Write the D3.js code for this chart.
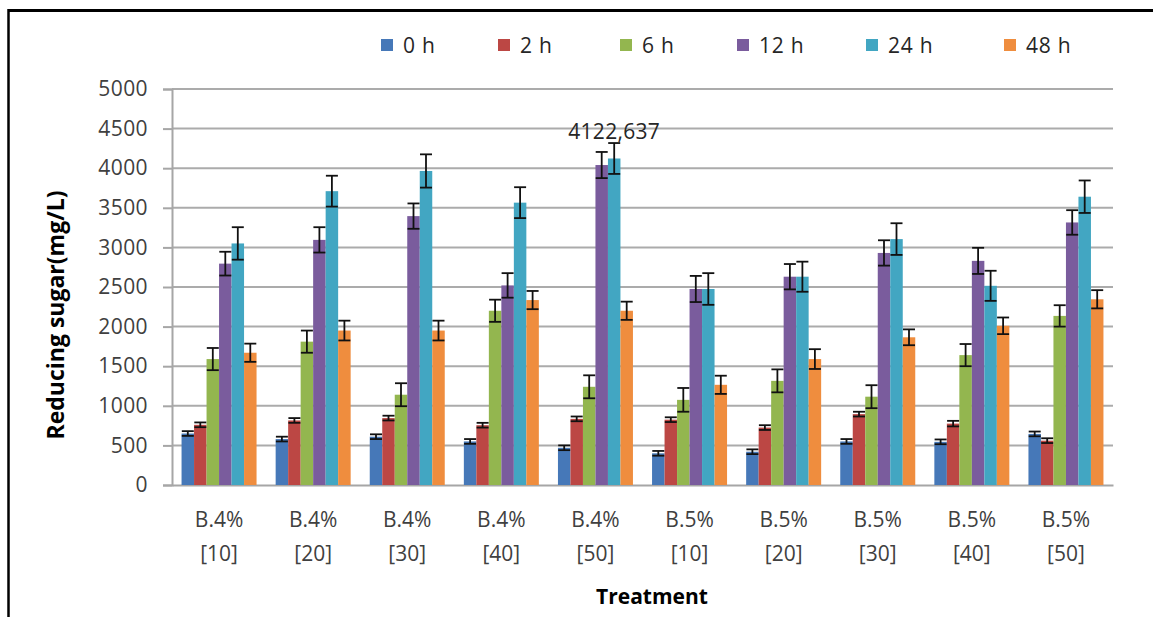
<!DOCTYPE html>
<html>
<head>
<meta charset="utf-8">
<script src="https://cdn.jsdelivr.net/npm/d3@7/dist/d3.min.js"></script>
<style>
  html, body { margin: 0; padding: 0; background: #fff; }
  svg { display: block; }
  text { font-family: "Open Sans", "Liberation Sans", sans-serif; }
</style>
</head>
<body>
<svg id="chart" width="1153" height="617"></svg>
<script>
// Treatments (two-line category labels)
const categories = ["B.4%|[10]", "B.4%|[20]", "B.4%|[30]", "B.4%|[40]", "B.4%|[50]",
                    "B.5%|[10]", "B.5%|[20]", "B.5%|[30]", "B.5%|[40]", "B.5%|[50]"];

// Sampling times
const seriesNames = ["0 h", "2 h", "6 h", "12 h", "24 h", "48 h"];

// Reducing sugar (mg/L) per sampling time
const values0h  = [650, 580, 610, 550, 470, 400, 420, 550, 545, 645];
const values2h  = [760, 815, 845, 755, 835, 825, 725, 895, 775, 560];
const values6h  = [1590, 1810, 1140, 2200, 1240, 1075, 1315, 1115, 1640, 2135];
const values12h = [2795, 3095, 3395, 2520, 4040, 2475, 2630, 2930, 2830, 3315];
const values24h = [3050, 3710, 3965, 3565, 4122.637, 2475, 2630, 3105, 2515, 3640];
const values48h = [1670, 1950, 1950, 2335, 2200, 1265, 1590, 1865, 2010, 2345];

// Standard deviations
const err0h  = [30, 30, 30, 30, 30, 30, 30, 30, 30, 30];
const err2h  = [30, 30, 30, 30, 30, 30, 30, 30, 35, 30];
const err6h  = [140, 140, 145, 140, 145, 150, 145, 145, 140, 135];
const err12h = [150, 160, 160, 155, 165, 165, 160, 160, 165, 155];
const err24h = [205, 195, 210, 195, 195, 200, 190, 200, 190, 205];
const err48h = [115, 125, 125, 115, 115, 115, 125, 100, 105, 115];

const yTicks = [0, 500, 1000, 1500, 2000, 2500, 3000, 3500, 4000, 4500, 5000];

// Labelled point: 24 h at B.4% [50]
const labelSeries = 4, labelCategory = 4, labelText = "4122,637";

const seriesValues = [values0h, values2h, values6h, values12h, values24h, values48h];
const seriesErrors = [err0h, err2h, err6h, err12h, err24h, err48h];
const colors = ["#4678B8", "#BC4744", "#93B64F", "#7A5C9D", "#42A6C2", "#EF8D3E"];

const svg = d3.select("#chart");

// Outer frame (top and left edges)
svg.append("line").attr("x1", 8).attr("x2", 1153).attr("y1", 10.5).attr("y2", 10.5)
  .attr("stroke", "#000").attr("stroke-width", 3);
svg.append("line").attr("x1", 8.5).attr("x2", 8.5).attr("y1", 9).attr("y2", 617)
  .attr("stroke", "#000").attr("stroke-width", 2.5);

const plot = { left: 172, right: 1113, top: 89, bottom: 485 };

const x = d3.scaleBand().domain(categories)
  .range([plot.left, plot.right]).paddingInner(0.203).paddingOuter(0.1015);
const xs = d3.scaleBand().domain(d3.range(seriesNames.length))
  .range([0, x.bandwidth()]).padding(0);
const y = d3.scaleLinear().domain([0, 5000]).range([plot.bottom, plot.top]);

// Gridlines
svg.append("g").selectAll("line").data(yTicks.filter(d => d > 0)).join("line")
  .attr("x1", plot.left).attr("x2", plot.right)
  .attr("y1", d => y(d)).attr("y2", d => y(d))
  .attr("stroke", "#ababab").attr("stroke-width", 2);

// Y axis
const yAxis = d3.axisLeft(y).tickValues(yTicks).tickSize(9).tickPadding(15)
  .tickFormat(d3.format("d"));
const gy = svg.append("g").attr("transform", `translate(${plot.left},0)`).call(yAxis);
gy.select(".domain").attr("stroke", "#a6a6a6").attr("stroke-width", 2);
gy.selectAll(".tick line").attr("stroke", "#a6a6a6").attr("stroke-width", 2);
gy.selectAll(".tick text").attr("font-size", 21).attr("fill", "#404040")
  .attr("letter-spacing", 0.4);

// X axis baseline
const xAxis = d3.axisBottom(x).tickSize(0).tickFormat("");
const gx = svg.append("g").attr("transform", `translate(0,${plot.bottom})`).call(xAxis);
gx.select(".domain").attr("stroke", "#a6a6a6").attr("stroke-width", 2);

// Category labels (two lines)
const catLabels = svg.append("g").selectAll("text").data(categories).join("text")
  .attr("x", d => x(d) + x.bandwidth() / 2)
  .attr("text-anchor", "middle").attr("font-size", 21).attr("fill", "#404040");
catLabels.append("tspan").attr("x", d => x(d) + x.bandwidth() / 2).attr("y", 527)
  .text(d => d.split("|")[0]);
catLabels.append("tspan").attr("x", d => x(d) + x.bandwidth() / 2).attr("y", 561)
  .text(d => d.split("|")[1]);

// Bars
const barData = [];
seriesValues.forEach((vals, s) => vals.forEach((v, c) =>
  barData.push({ s, c, v, e: seriesErrors[s][c] })));

svg.append("g").selectAll("rect").data(barData).join("rect")
  .attr("x", d => x(categories[d.c]) + xs(d.s))
  .attr("y", d => y(d.v))
  .attr("width", xs.bandwidth())
  .attr("height", d => y(0) - y(d.v))
  .attr("fill", d => colors[d.s]);

// Error bars
const eb = svg.append("g").attr("stroke", "#111").attr("stroke-width", 1.8);
const cx = d => x(categories[d.c]) + xs(d.s) + xs.bandwidth() / 2;
eb.selectAll("line.v").data(barData).join("line").attr("class", "v")
  .attr("x1", cx).attr("x2", cx)
  .attr("y1", d => y(d.v + d.e)).attr("y2", d => y(d.v - d.e));
eb.selectAll("line.t").data(barData).join("line").attr("class", "t")
  .attr("x1", d => cx(d) - 6).attr("x2", d => cx(d) + 6)
  .attr("y1", d => y(d.v + d.e)).attr("y2", d => y(d.v + d.e));
eb.selectAll("line.b").data(barData).join("line").attr("class", "b")
  .attr("x1", d => cx(d) - 6).attr("x2", d => cx(d) + 6)
  .attr("y1", d => y(d.v - d.e)).attr("y2", d => y(d.v - d.e));

// Data label on the highest bar
svg.append("text")
  .attr("x", x(categories[labelCategory]) + xs(labelSeries) + xs.bandwidth() / 2)
  .attr("y", y(seriesValues[labelSeries][labelCategory] + seriesErrors[labelSeries][labelCategory]) - 4)
  .attr("text-anchor", "middle").attr("font-size", 21).attr("fill", "#262626")
  .attr("letter-spacing", 0.3)
  .text(labelText);

// Legend
const legendX = [381, 498, 620, 737, 866, 1004];
const legend = svg.append("g").selectAll("g").data(seriesNames).join("g")
  .attr("transform", (d, i) => `translate(${legendX[i]},45)`);
legend.append("rect").attr("x", 0).attr("y", -6).attr("width", 12).attr("height", 12)
  .attr("fill", (d, i) => colors[i]);
legend.append("text").attr("x", 22).attr("y", 8).attr("font-size", 21)
  .attr("fill", "#262626").attr("letter-spacing", 0.8).text(d => d);

// Axis titles
svg.append("text").attr("transform", "translate(64,315) rotate(-90)")
  .attr("text-anchor", "middle").attr("font-size", 23).attr("font-weight", "bold")
  .attr("fill", "#000").text("Reducing sugar(mg/L)");
svg.append("text").attr("x", 652).attr("y", 604)
  .attr("text-anchor", "middle").attr("font-size", 21).attr("font-weight", "bold")
  .attr("fill", "#000").text("Treatment");
</script>
</body>
</html>
